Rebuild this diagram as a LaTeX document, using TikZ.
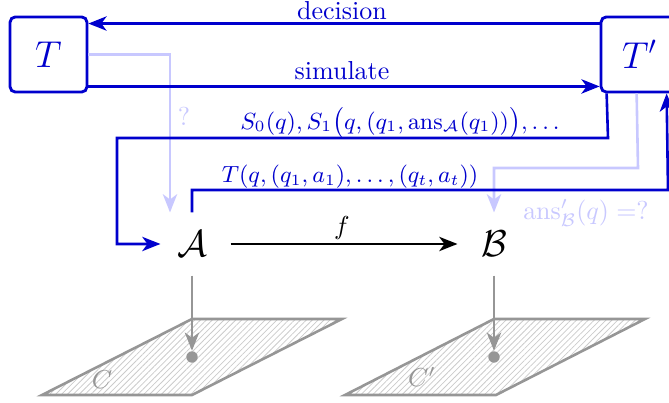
\documentclass[tikz,border=0pt]{standalone}
\usetikzlibrary{arrows.meta,calc,patterns.meta}
\definecolor{myblue}{RGB}{0,0,205}
\definecolor{lblue}{RGB}{200,200,255}
\definecolor{mygray}{RGB}{150,150,150}
\begin{document}
\begin{tikzpicture}[x=0.385pt,y=-0.385pt,
  box/.style={draw=myblue,line width=1.1pt,rounded corners=2pt,minimum width=29.6pt,minimum height=28.9pt,inner sep=0pt,text=myblue,font=\Large},
  obj/.style={minimum width=23.9pt,minimum height=23.9pt,inner sep=0pt,font=\Large},
  bl/.style={draw=myblue,line width=1pt,-{Stealth[length=7pt,width=5.5pt,inset=2pt]}},
  lb/.style={draw=lblue,line width=1pt,-{Stealth[length=7pt,width=5.5pt,inset=2pt]}},
  gr/.style={draw=mygray,line width=1pt,-{Stealth[length=7pt,width=5.5pt,inset=2pt]}},
  plane/.style={draw=mygray,line width=1pt,pattern={Lines[angle=45,distance=1.6pt,line width=0.3pt]},pattern color=mygray!50},
  lab/.style={text=myblue,inner sep=0pt}]
\useasboundingbox (0,0) rectangle (669,403);
% planes
\draw[plane] (42,395) -- (192,395) -- (342,319) -- (192,319) -- cycle;
\draw[plane] (345,395) -- (496,395) -- (645,319) -- (494,319) -- cycle;
\node[text=mygray,inner sep=0pt] (Clab) at (102,380) {$C$};
\node[text=mygray,inner sep=0pt] (Cplab) at (422,377) {$C'$};
% nodes
\node[box] (T) at (48.5,54.5) {$T$};
\node[box] (Tp) at (639.5,54.5) {$T'$};
\node[obj] (A) at (192,244) {$\mathcal{A}$};
\node[obj] (B) at (494,244) {$\mathcal{B}$};
\node[circle,fill=mygray,inner sep=0pt,minimum size=4.4pt] (dA) at (192,357) {};
\node[circle,fill=mygray,inner sep=0pt,minimum size=4.4pt] (dB) at (494,357) {};
% light blue
\draw[lb] (T.east) -- (170,54.5) -- ($(A.north)+(-22,0)$);
\node[text=lblue,inner sep=0pt] (q) at (184,116) {?};
\draw[lb] ($(Tp.south west)+(37,0)$) -- (638,168) -- (494,168) -- (B.north);
\node[text=lblue,inner sep=0pt] (ansB) at (586,213) {$\mathrm{ans}'_{\mathcal{B}}(q) =?$};
% blue arrows
\draw[bl] ($(Tp.north west)+(0,8)$) -- ($(T.north east)+(0,8)$);
\node[lab] (dec) at (342,11) {decision};
\draw[bl] ($(T.south east)+(0,-7)$) -- ($(Tp.south west)+(0,-7)$);
\node[lab] (sim) at (342,71) {simulate};
\draw[bl] ($(Tp.south west)+(7,0)$) -- (608,138) -- (117,138) -- (117,244) -- (A.west);
\node[lab,font=\small] (Slab) at (400,123) {$S_0(q), S_1\bigl(q,(q_1,\mathrm{ans}_{\mathcal{A}}(q_1))\bigr),\ldots$};
\draw[bl] (A.north) -- (192,190) -- (668,190) -- ($(Tp.south west)+(67,0)$);
\node[lab,font=\small] (Tlab) at (350,177) {$T(q,(q_1,a_1),\ldots,(q_t,a_t))$};
% f arrow
\draw[line width=1pt,-{Stealth[length=7pt,width=5.5pt,inset=2pt]}] ($(A.east)+(7,0)$) -- ($(B.west)+(-5,0)$);
\node[inner sep=0pt] (f) at (342,228) {$f$};
% gray arrows
\draw[gr] (A.south) -- (dA);
\draw[gr] (B.south) -- (dB);
\end{tikzpicture}
\end{document}
